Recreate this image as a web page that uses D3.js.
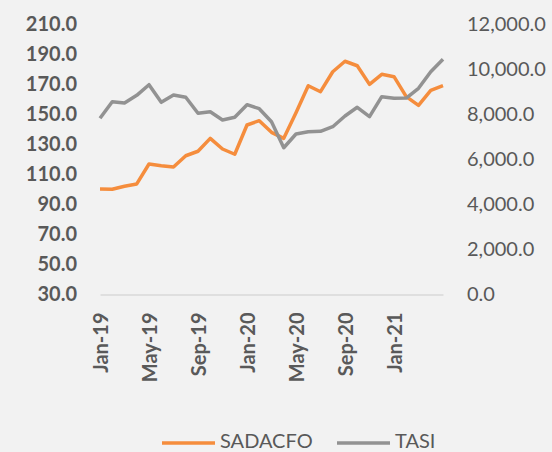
<!DOCTYPE html>
<html>
<head>
<meta charset="utf-8">
<script src="https://cdn.jsdelivr.net/npm/d3@7"></script>
<style>
  html, body { margin: 0; padding: 0; background: #f2f2f2; }
  svg { display: block; }
  svg text { font-family: Lato, "Open Sans", sans-serif; fill: #595959; }
</style>
</head>
<body>
<svg id="chart" width="552" height="452"></svg>
<script>
const months = ["Jan-19","Feb-19","Mar-19","Apr-19","May-19","Jun-19","Jul-19","Aug-19","Sep-19","Oct-19","Nov-19","Dec-19",
  "Jan-20","Feb-20","Mar-20","Apr-20","May-20","Jun-20","Jul-20","Aug-20","Sep-20","Oct-20","Nov-20","Dec-20",
  "Jan-21","Feb-21","Mar-21","Apr-21","May-21"];
const tickLabels = ["Jan-19","May-19","Sep-19","Jan-20","May-20","Sep-20","Jan-21"];
const leftTicks = [30, 50, 70, 90, 110, 130, 150, 170, 190, 210];
const rightTicks = [0, 2000, 4000, 6000, 8000, 10000, 12000];

// SADACFO (left axis)
const sadacfo = [100.3, 100.2, 102.2, 103.7, 117.0, 115.9, 115.0, 122.5, 125.5, 134.1, 127.0, 123.5,
  143.0, 145.9, 138.1, 134.1, 151.2, 169.2, 165.2, 178.5, 185.5, 182.5, 170.1, 176.8,
  175.2, 161.9, 156.1, 166.1, 169.2];
// TASI (right axis)
const tasi = [7831, 8569, 8511, 8853, 9324, 8542, 8867, 8764, 8053, 8124, 7756, 7876,
  8436, 8258, 7680, 6524, 7133, 7236, 7253, 7458, 7933, 8320, 7902, 8791,
  8720, 8733, 9164, 9902, 10453];

const svg = d3.select("#chart");

const x = d3.scalePoint().domain(months).range([100, 443]);
const yL = d3.scaleLinear().domain([30, 210]).range([294.5, 24.5]);
const yR = d3.scaleLinear().domain([0, 12000]).range([294.5, 24.5]);

// left axis
svg.append("g")
  .attr("transform", "translate(84,0)")
  .call(d3.axisLeft(yL).tickValues(leftTicks).tickSize(0).tickPadding(7).tickFormat(d3.format(".1f")))
  .call(g => g.select(".domain").remove())
  .selectAll("text")
  .style("font-size", "20px")
  .style("font-weight", "bold");

// right axis
svg.append("g")
  .attr("transform", "translate(460,0)")
  .call(d3.axisRight(yR).tickValues(rightTicks).tickSize(0).tickPadding(7).tickFormat(d3.format(",.1f")))
  .call(g => g.select(".domain").remove())
  .selectAll("text")
  .style("font-size", "20px");

// category axis
const xAxis = svg.append("g")
  .attr("transform", "translate(0,294.5)")
  .call(d3.axisBottom(x).tickValues(tickLabels).tickSize(0));
xAxis.select(".domain").attr("stroke", "#d9d9d9").attr("stroke-width", 1.5);
xAxis.selectAll("text")
  .style("font-size", "20px")
  .style("font-weight", "bold")
  .attr("text-anchor", "end")
  .attr("transform", "rotate(-90)")
  .attr("x", -18)
  .attr("y", 0)
  .attr("dy", "0.35em");

const lineL = d3.line().x((d, i) => x(months[i])).y(d => yL(d));
const lineR = d3.line().x((d, i) => x(months[i])).y(d => yR(d));

svg.append("path")
  .datum(sadacfo)
  .attr("fill", "none")
  .attr("stroke", "#f58d3d")
  .attr("stroke-width", 3.5)
  .attr("stroke-linejoin", "round")
  .attr("d", lineL);

svg.append("path")
  .datum(tasi)
  .attr("fill", "none")
  .attr("stroke", "#929292")
  .attr("stroke-width", 3.5)
  .attr("stroke-linejoin", "round")
  .attr("d", lineR);

// legend
const legend = [
  { name: "SADACFO", color: "#f58d3d", x: 162 },
  { name: "TASI", color: "#929292", x: 337 }
];
const lg = svg.append("g");
lg.selectAll("line")
  .data(legend)
  .join("line")
  .attr("x1", d => d.x)
  .attr("x2", d => d.x + 53)
  .attr("y1", 443)
  .attr("y2", 443)
  .attr("stroke", d => d.color)
  .attr("stroke-width", 3.5);
lg.selectAll("text")
  .data(legend)
  .join("text")
  .attr("x", d => d.x + 58)
  .attr("y", 448)
  .style("font-size", "20px")
  .text(d => d.name);
</script>
</body>
</html>
